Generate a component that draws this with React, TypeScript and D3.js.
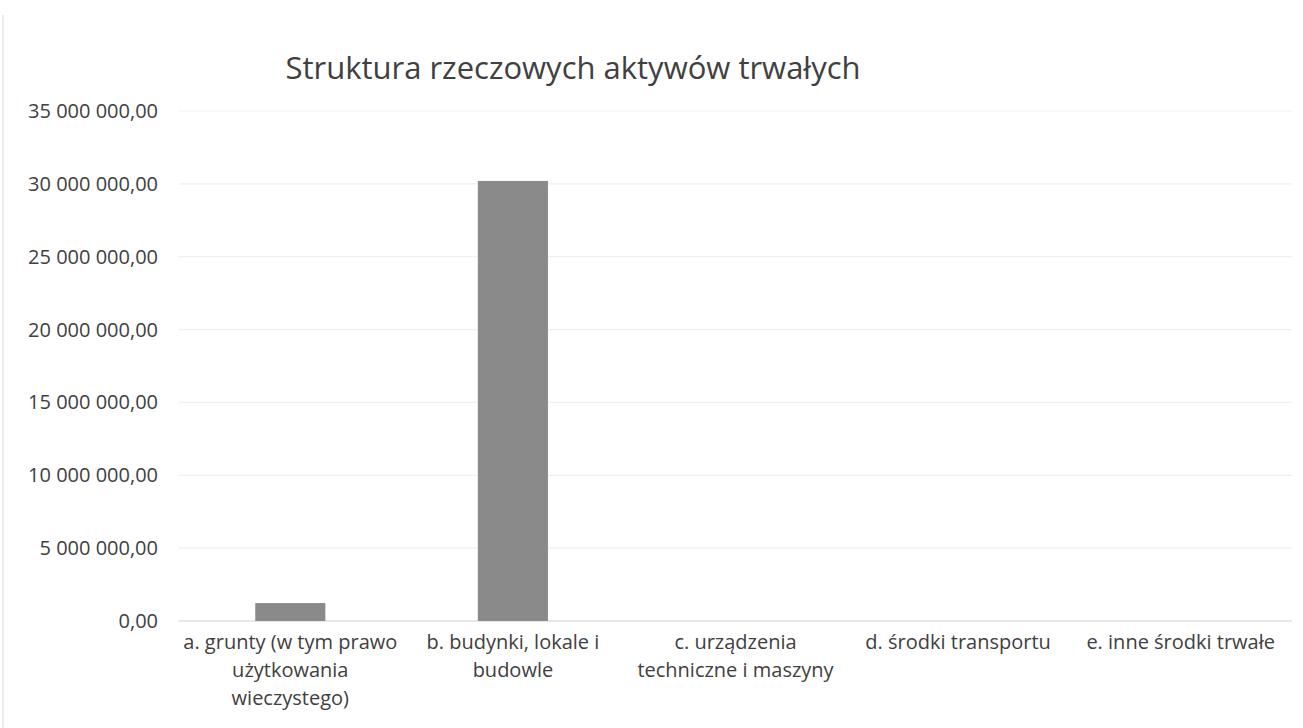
import { useEffect, useRef } from "react";
import * as d3 from "d3";

const title = "Struktura rzeczowych aktywów trwałych";

const categories = ["a", "b", "c", "d", "e"];

const categoryLabels = [
  ["a. grunty (w tym prawo", "użytkowania", "wieczystego)"],
  ["b. budynki, lokale i", "budowle"],
  ["c. urządzenia", "techniczne i maszyny"],
  ["d. środki transportu"],
  ["e. inne środki trwałe"],
];

const values = [1230000, 30200000, 0, 0, 0];

const yTicks = [0, 5000000, 10000000, 15000000, 20000000, 25000000, 30000000, 35000000];

const pl = d3.formatLocale({
  decimal: ",",
  thousands: " ",
  grouping: [3],
  currency: ["", " zł"],
});
const fmt = pl.format(",.2f");

export default function App() {
  const svgRef = useRef(null);

  useEffect(() => {
    const svg = d3.select(svgRef.current);
    svg.selectAll("*").remove();

    const width = 1303;
    const height = 728;
    const plot = { left: 179, right: 1292, top: 111, bottom: 621 };
    const font = "'Open Sans', sans-serif";

    svg.attr("width", width).attr("height", height);

    svg
      .append("rect")
      .attr("width", width)
      .attr("height", height)
      .attr("fill", "#ffffff");

    // faint scan edge on the left
    svg
      .append("line")
      .attr("x1", 3)
      .attr("x2", 3)
      .attr("y1", 15)
      .attr("y2", height)
      .attr("stroke", "#ececec")
      .attr("stroke-width", 2);

    const x = d3
      .scaleBand()
      .domain(categories)
      .range([plot.left, plot.right])
      .paddingInner(0.685)
      .paddingOuter(0.3425);

    const y = d3
      .scaleLinear()
      .domain([0, 35000000])
      .range([plot.bottom, plot.top]);

    // gridlines
    svg
      .append("g")
      .selectAll("line")
      .data(yTicks)
      .enter()
      .append("line")
      .attr("x1", plot.left)
      .attr("x2", plot.right)
      .attr("y1", (d) => y(d))
      .attr("y2", (d) => y(d))
      .attr("stroke", (d) => (d === 0 ? "#e0e0e0" : "#efefef"))
      .attr("stroke-width", (d) => (d === 0 ? 1.5 : 1.2));

    // y tick labels
    svg
      .append("g")
      .selectAll("text")
      .data(yTicks)
      .enter()
      .append("text")
      .attr("x", 158)
      .attr("y", (d) => y(d))
      .attr("dy", "0.35em")
      .attr("text-anchor", "end")
      .attr("fill", "#404040")
      .attr("font-family", font)
      .attr("font-size", 20)
      .text((d) => fmt(d));

    // bars
    svg
      .append("g")
      .selectAll("rect")
      .data(values)
      .enter()
      .append("rect")
      .attr("x", (_, i) => x(categories[i]))
      .attr("y", (d) => y(d))
      .attr("width", x.bandwidth())
      .attr("height", (d) => y(0) - y(d))
      .attr("fill", "#8a8a8a");

    // category labels
    const labels = svg
      .append("g")
      .selectAll("text")
      .data(categoryLabels)
      .enter()
      .append("text")
      .attr("x", (_, i) => x(categories[i]) + x.bandwidth() / 2)
      .attr("y", 649)
      .attr("text-anchor", "middle")
      .attr("fill", "#404040")
      .attr("font-family", font)
      .attr("font-size", 20);

    labels.each(function (lines) {
      const t = d3.select(this);
      const cx = t.attr("x");
      lines.forEach((line, j) => {
        t.append("tspan")
          .attr("x", cx)
          .attr("dy", j === 0 ? 0 : 28)
          .text(line);
      });
    });

    svg
      .append("text")
      .attr("x", 573)
      .attr("y", 79)
      .attr("text-anchor", "middle")
      .attr("fill", "#404040")
      .attr("font-family", font)
      .attr("font-size", 31)
      .text(title);
  }, []);

  return (
    <svg
      ref={svgRef}
      style={{ position: "absolute", left: 0, top: 0, display: "block" }}
    ></svg>
  );
}
